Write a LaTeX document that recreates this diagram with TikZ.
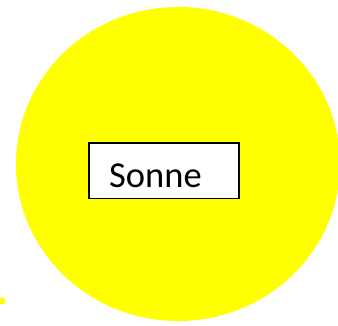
\documentclass[tikz,border=0pt]{standalone}
\usepackage{fontspec}
\setmainfont{Carlito}
\definecolor{sunyellow}{RGB}{255,255,0}
\begin{document}
\begin{tikzpicture}[x=1pt,y=1pt,
  sunfill/.style={fill=sunyellow, draw=none},
  labelbox/.style={draw=black, line width=1.5pt, fill=white, minimum width=150pt, minimum height=55.5pt, inner sep=0pt}]
\useasboundingbox (0,0) rectangle (338,326);
\clip (0,0) rectangle (338,326);
\fill[white] (0,0) rectangle (338,326);
\path[sunfill] (178,162) ellipse [x radius=162, y radius=157];
\path[sunfill] (2,25) circle [radius=3.5];
\node[labelbox] (box) at (164,155.2) {};
\node[anchor=base west, inner sep=0pt, font=\fontsize{36.5}{40}\selectfont] (sonne) at (109,138) {Sonne};
\end{tikzpicture}
\end{document}
